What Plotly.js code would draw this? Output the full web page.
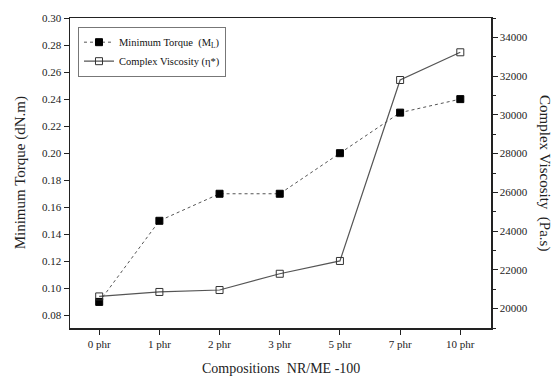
<!DOCTYPE html>
<html>
<head>
<meta charset="utf-8">
<script src="https://cdn.plot.ly/plotly-3.0.1.min.js"></script>
<style>html,body{margin:0;padding:0;background:#fff;}#chart{width:554px;height:378px;}</style>
</head>
<body>
<div id="chart"></div>
<script>
const categories = ["0 phr", "1 phr", "2 phr", "3 phr", "5 phr", "7 phr", "10 phr"];
const minimumTorque = [0.09, 0.15, 0.17, 0.17, 0.20, 0.23, 0.24];
const complexViscosity = [20630, 20860, 20960, 21800, 22460, 31800, 33230];
const torqueTicks = [0.08, 0.10, 0.12, 0.14, 0.16, 0.18, 0.20, 0.22, 0.24, 0.26, 0.28, 0.30];
const viscTicks = [20000, 22000, 24000, 26000, 28000, 30000, 32000, 34000];

const serif = "Liberation Serif, Times New Roman, serif";
const xIdx = categories.map((c, i) => i);

const traces = [
  {
    x: xIdx, y: minimumTorque, name: "Minimum Torque\u00a0 (M<sub>L</sub>)",
    type: "scatter", mode: "lines+markers", yaxis: "y",
    line: {color: "#555", width: 1, dash: "dot"},
    marker: {symbol: "square", size: 7, color: "#000", line: {color: "#000", width: 1}}
  },
  {
    x: xIdx, y: complexViscosity, name: "Complex Viscosity (\u03b7*)",
    type: "scatter", mode: "lines+markers", yaxis: "y2",
    line: {color: "#555", width: 1.2},
    marker: {symbol: "square-open", size: 7, color: "#333", line: {width: 1}}
  }
];

const layout = {
  width: 554, height: 378,
  margin: {l: 70, r: 63, t: 18, b: 50},
  paper_bgcolor: "#fff", plot_bgcolor: "#fff",
  font: {family: serif, size: 11, color: "#222"},
  showlegend: true,
  legend: {
    x: 0.019, y: 0.972, xanchor: "left", yanchor: "top",
    bordercolor: "#777", borderwidth: 1, bgcolor: "#fff",
    font: {family: serif, size: 10.5, color: "#111"},
    tracegroupgap: 0, itemwidth: 30
  },
  xaxis: {
    range: [-0.485, 6.51], tickvals: xIdx, ticktext: categories,
    showgrid: false, zeroline: false,
    showline: true, linecolor: "#222", linewidth: 1.5, mirror: true,
    ticks: "outside", ticklen: 5, tickcolor: "#222", tickwidth: 1,
    tickfont: {family: serif, size: 11, color: "#222"}
  },
  yaxis: {
    range: [0.0707, 0.30], tickvals: torqueTicks, ticktext: torqueTicks.map(v => v.toFixed(2)),
    showgrid: false, zeroline: false,
    showline: true, linecolor: "#222", linewidth: 1.5,
    ticks: "outside", ticklen: 5, tickcolor: "#222", tickwidth: 1,
    tickfont: {family: serif, size: 11, color: "#222"}
  },
  yaxis2: {
    overlaying: "y", side: "right",
    range: [19000, 35000], tickvals: viscTicks, ticktext: viscTicks.map(String),
    showgrid: false, zeroline: false,
    showline: true, linecolor: "#222", linewidth: 1.5,
    ticks: "outside", ticklen: 5, tickcolor: "#222", tickwidth: 1,
    minor: {dtick: 1000, tick0: 0, ticks: "outside", ticklen: 3, tickcolor: "#222", showgrid: false},
    tickfont: {family: serif, size: 11, color: "#222"}
  },
  annotations: [
    {text: "Minimum Torque (dN.m)", xref: "paper", yref: "paper", x: -0.118, y: 0.5,
     xanchor: "center", yanchor: "middle", textangle: -90, showarrow: false,
     font: {family: serif, size: 15, color: "#222"}},
    {text: "Complex Viscosity\u00a0 (Pa.s)", xref: "paper", yref: "paper", x: 1.128, y: 0.5,
     xanchor: "center", yanchor: "middle", textangle: 90, showarrow: false,
     font: {family: serif, size: 15, color: "#222"}},
    {text: "Compositions\u00a0 NR/ME -100", xref: "paper", yref: "paper", x: 0.5, y: -0.131,
     xanchor: "center", yanchor: "middle", showarrow: false,
     font: {family: serif, size: 14, color: "#222"}}
  ]
};

Plotly.newPlot("chart", traces, layout, {displayModeBar: false, staticPlot: true});
</script>
</body>
</html>
